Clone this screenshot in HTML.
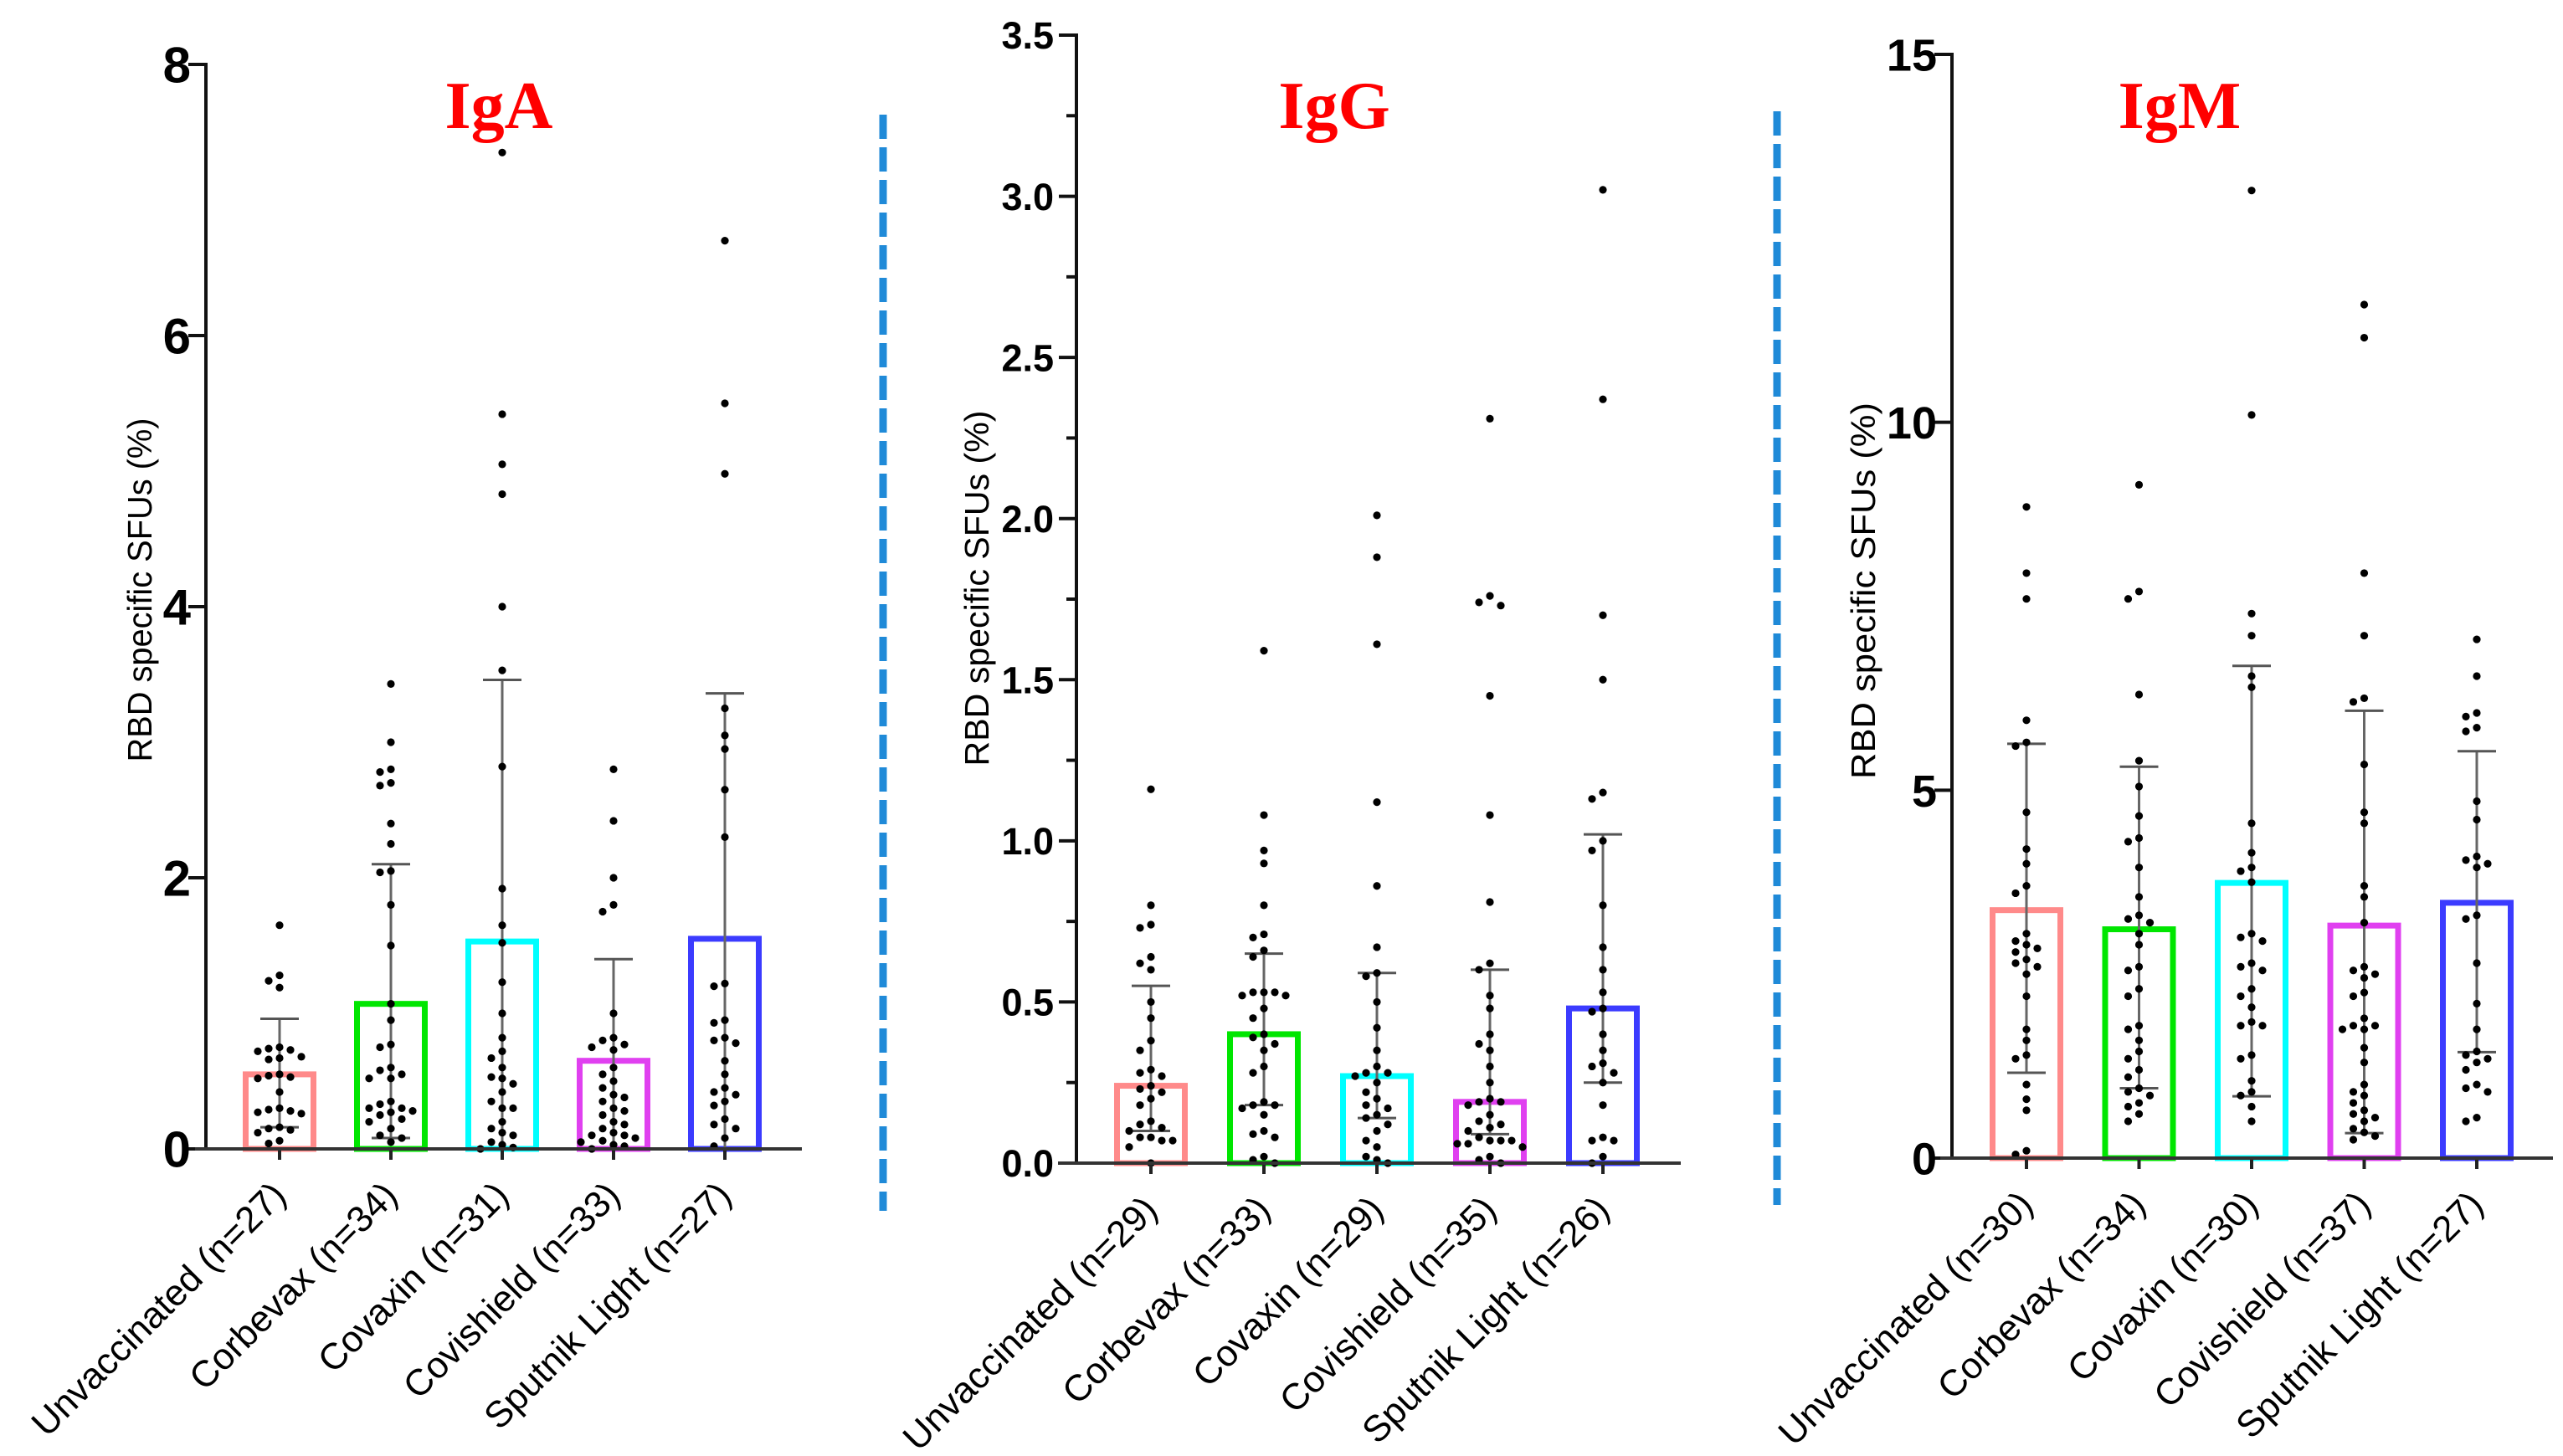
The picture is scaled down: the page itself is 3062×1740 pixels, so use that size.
<!DOCTYPE html>
<html><head><meta charset="utf-8"><style>
html,body{margin:0;padding:0;background:#fff;}
svg{display:block;}
</style></head><body>
<svg id="fig" width="3062" height="1740" viewBox="0 0 3062 1740" xmlns="http://www.w3.org/2000/svg">
<rect width="3062" height="1740" fill="#fff"/>
<line x1="1055" y1="137" x2="1055" y2="1447" stroke="#1f8ad8" stroke-width="9" stroke-dasharray="29,10"/>
<line x1="2123" y1="133" x2="2123" y2="1440" stroke="#1f8ad8" stroke-width="9" stroke-dasharray="29,10"/>
</svg>
<script>
const categories = ["Unvaccinated", "Corbevax", "Covaxin", "Covishield", "Sputnik Light"];
const colors = ["#ff8a8a", "#00e600", "#00ffff", "#e040f0", "#3b3bff"];

const igaN = [27, 34, 31, 33, 27];
const igaMeans = [0.55, 1.07, 1.53, 0.65, 1.55];
const igaUpper = [0.96, 2.10, 3.46, 1.40, 3.36];
const igaLower = [0.16, 0.08, 0, 0, 0];
const igaTicks = ["0", "2", "4", "6", "8"];
const igaPoints = [
 [1.65,1.28,1.24,1.19,0.75,0.74,0.73,0.72,0.68,0.67,0.66,0.55,0.54,0.53,0.52,0.42,0.30,0.29,0.28,0.27,0.26,0.16,0.15,0.14,0.12,0.06,0.04],
 [3.43,3.0,2.8,2.78,2.7,2.68,2.4,2.25,2.05,2.04,1.8,1.5,1.07,0.95,0.77,0.75,0.6,0.58,0.55,0.52,0.52,0.35,0.33,0.3,0.3,0.28,0.27,0.25,0.22,0.2,0.15,0.1,0.08,0.05],
 [7.35,5.42,5.05,4.83,4.0,3.53,2.82,1.92,1.65,1.52,1.23,1.0,0.82,0.72,0.67,0.6,0.53,0.52,0.48,0.42,0.35,0.3,0.3,0.2,0.15,0.12,0.1,0.05,0.03,0.01,0.0],
 [2.8,2.42,2.0,1.8,1.75,1.0,0.82,0.8,0.77,0.75,0.73,0.6,0.55,0.5,0.45,0.4,0.38,0.35,0.3,0.28,0.25,0.2,0.18,0.15,0.12,0.1,0.1,0.08,0.06,0.05,0.03,0.02,0.0],
 [6.7,5.5,4.98,3.25,3.05,2.95,2.65,2.3,1.22,1.2,0.95,0.93,0.82,0.8,0.78,0.65,0.55,0.45,0.42,0.4,0.35,0.32,0.22,0.18,0.15,0.08,0.02]
];

const iggN = [29, 33, 29, 35, 26];
const iggMeans = [0.24, 0.40, 0.27, 0.19, 0.48];
const iggUpper = [0.55, 0.65, 0.59, 0.60, 1.02];
const iggLower = [0.10, 0.18, 0.14, 0.09, 0.25];
const iggTicks = ["0.0", "0.5", "1.0", "1.5", "2.0", "2.5", "3.0", "3.5"];
const iggPoints = [
 [1.16,0.80,0.74,0.73,0.64,0.62,0.60,0.50,0.45,0.38,0.35,0.29,0.28,0.27,0.24,0.23,0.22,0.20,0.18,0.13,0.12,0.11,0.10,0.08,0.08,0.07,0.07,0.05,0.0],
 [1.59,1.08,0.97,0.93,0.80,0.71,0.70,0.66,0.64,0.53,0.53,0.53,0.52,0.52,0.48,0.45,0.40,0.39,0.37,0.35,0.30,0.28,0.19,0.18,0.18,0.17,0.15,0.10,0.09,0.08,0.02,0.01,0.0],
 [2.01,1.88,1.61,1.12,0.86,0.67,0.59,0.58,0.50,0.42,0.35,0.30,0.28,0.28,0.27,0.25,0.22,0.20,0.18,0.17,0.15,0.14,0.12,0.10,0.07,0.05,0.02,0.01,0.0],
 [2.31,1.76,1.74,1.73,1.45,1.08,0.81,0.62,0.60,0.52,0.48,0.40,0.37,0.35,0.30,0.25,0.20,0.19,0.19,0.18,0.15,0.13,0.12,0.11,0.10,0.08,0.07,0.07,0.07,0.06,0.06,0.05,0.02,0.01,0.0],
 [3.02,2.37,1.70,1.50,1.15,1.13,1.00,0.97,0.80,0.67,0.60,0.53,0.48,0.47,0.40,0.35,0.31,0.30,0.28,0.25,0.18,0.08,0.07,0.07,0.02,0.0]
];

const igmN = [30, 34, 30, 37, 27];
const igmMeans = [3.37, 3.11, 3.74, 3.16, 3.47];
const igmUpper = [5.63, 5.32, 6.69, 6.08, 5.53];
const igmLower = [1.16, 0.95, 0.84, 0.34, 1.44];
const igmTicks = ["0", "5", "10", "15"];
const igmPoints = [
 [8.85,7.95,7.6,5.95,5.65,5.6,4.7,4.2,4.0,3.7,3.6,3.05,2.95,2.9,2.85,2.8,2.7,2.65,2.6,2.5,2.2,1.75,1.6,1.4,1.35,1.0,0.8,0.65,0.1,0.05],
 [9.15,7.7,7.6,6.3,5.4,5.05,4.65,4.35,4.3,3.95,3.55,3.3,3.25,3.2,3.05,2.9,2.6,2.55,2.3,2.2,1.8,1.75,1.6,1.45,1.35,1.2,1.1,0.95,0.9,0.85,0.75,0.7,0.6,0.5],
 [13.15,10.1,7.4,7.1,6.55,6.4,4.55,4.15,3.95,3.9,3.75,3.05,3.0,2.95,2.65,2.6,2.55,2.3,2.2,2.05,1.85,1.8,1.8,1.4,1.35,1.05,0.9,0.85,0.7,0.5],
 [11.6,11.15,7.95,7.1,6.25,6.2,5.35,4.7,4.55,3.7,3.55,3.2,2.6,2.55,2.5,2.45,2.25,2.2,1.9,1.8,1.8,1.75,1.75,1.5,1.3,1.0,0.9,0.85,0.75,0.65,0.6,0.55,0.5,0.4,0.35,0.3,0.25],
 [7.05,6.55,6.05,6.0,5.85,5.8,4.85,4.6,4.1,4.05,4.0,3.95,3.3,3.25,2.65,2.1,1.75,1.45,1.4,1.35,1.3,1.2,1.0,0.95,0.9,0.55,0.5]
];

const NS = "http://www.w3.org/2000/svg";
const svg = document.getElementById("fig");
function mk(tag, attrs, parent) {
  const e = document.createElementNS(NS, tag);
  for (const k in attrs) e.setAttribute(k, attrs[k]);
  (parent || svg).appendChild(e);
  return e;
}

function drawPanel(cfg) {
  const g = mk("g", {});
  
  
  const yScale = v => cfg.y0 - v / cfg.max * (cfg.y0 - cfg.yTop);
  const xScale = i => cfg.x0c + i * cfg.step;

  const t = mk("text", {x: cfg.titleX, y: 153, "text-anchor": "middle", fill: "#ff0000",
    "font-family": "Liberation Serif, serif", "font-weight": "bold", "font-size": 80}, g);
  t.textContent = cfg.title;
  
  

  const ya = mk("line", {x1: cfg.axisX, y1: yScale(cfg.max) - 2, x2: cfg.axisX, y2: cfg.y0, stroke: "#111", "stroke-width": 4}, g);
  
  
  cfg.ticks.forEach((lab, i) => {
    const v = i * cfg.max / (cfg.ticks.length - 1);
    const y = yScale(v);
    const tk = mk("line", {x1: cfg.axisX - 21, y1: y, x2: cfg.axisX, y2: y, stroke: "#111", "stroke-width": 4}, g);
    
    
    const tl = mk("text", {x: cfg.labelRight, y: y + cfg.tickFont * 0.36, "text-anchor": "end", fill: "#000",
      "font-family": "Liberation Sans, sans-serif", "font-weight": "bold", "font-size": cfg.tickFont}, g);
    tl.textContent = lab;
    
    
    if (cfg.minor && i < cfg.ticks.length - 1) {
      const ym = yScale(v + cfg.max / (cfg.ticks.length - 1) / 2);
      const mt = mk("line", {x1: cfg.axisX - 12, y1: ym, x2: cfg.axisX, y2: ym, stroke: "#111", "stroke-width": 4}, g);
      
      
    }
  });
  const yt = mk("text", {x: 0, y: 0, "text-anchor": "middle", fill: "#000", "font-family": "Liberation Sans, sans-serif",
    "font-size": 41, textLength: cfg.ytLen, lengthAdjust: "spacingAndGlyphs",
    transform: `translate(${cfg.ytX},${cfg.ytY}) rotate(-90)`}, g);
  yt.textContent = "RBD specific SFUs (%)";
  
  

  cfg.means.forEach((m, i) => {
    const cx = xScale(i);
    const bw = 81;
    const by = yScale(m);
    const bar = mk("rect", {x: cx - bw / 2, y: by, width: bw, height: cfg.y0 - by, fill: "#fff", stroke: colors[i], "stroke-width": 7}, g);
    
    
    const up = yScale(cfg.upper[i]);
    const lo = cfg.lower[i] > 0 ? yScale(cfg.lower[i]) : cfg.y0;
    const el = mk("line", {x1: cx, y1: up, x2: cx, y2: lo, stroke: "#666", "stroke-width": 3}, g);
    
    
    const cu = mk("line", {x1: cx - 23, y1: up, x2: cx + 23, y2: up, stroke: "#555", "stroke-width": 3}, g);
    
    
    if (cfg.lower[i] > 0) {
      const cl = mk("line", {x1: cx - 23, y1: lo, x2: cx + 23, y2: lo, stroke: "#555", "stroke-width": 3}, g);
      
      
    }
    const placed = [];
    cfg.points[i].forEach(v => {
      const py = yScale(v);
      let off = 0;
      for (let k = 0; k < 40; k++) {
        const cand = k === 0 ? 0 : (k % 2 ? -1 : 1) * Math.ceil(k / 2) * 13;
        const ok = placed.every(p => (p[0] - cand) ** 2 + (p[1] - py) ** 2 >= 144);
        if (ok) { off = cand; break; }
      }
      placed.push([off, py]);
      const c = mk("circle", {cx: cx + off, cy: py, r: 4.6, fill: "#000"}, g);
      
      
    });
    const xt = mk("line", {x1: cx, y1: cfg.y0, x2: cx, y2: cfg.y0 + 13, stroke: "#222", "stroke-width": 4}, g);
    
    
    const xl = mk("text", {x: 0, y: 0, "text-anchor": "end", fill: "#000", "font-family": "Liberation Sans, sans-serif",
      "font-size": 44, transform: `translate(${cx + 10},${cfg.y0 + 58}) rotate(-45)`}, g);
    xl.textContent = categories[i] + " (n=" + cfg.n[i] + ")";
    
    
  });
  const xa = mk("line", {x1: cfg.xStart, y1: cfg.y0, x2: cfg.xEnd, y2: cfg.y0, stroke: "#333", "stroke-width": 4}, g);
  
  
}

drawPanel({key: "iga", title: "IgA", titleX: 596, axisX: 246, y0: 1373, yTop: 77, max: 8, ticks: igaTicks, minor: false,
  tickFont: 60, labelRight: 228, x0c: 334, step: 133, xStart: 233, xEnd: 958, ytX: 181, ytY: 705, ytLen: 411,
  means: igaMeans, upper: igaUpper, lower: igaLower, points: igaPoints, n: igaN});
drawPanel({key: "igg", title: "IgG", titleX: 1594, axisX: 1286, y0: 1390, yTop: 42, max: 3.5, ticks: iggTicks, minor: true,
  tickFont: 45, labelRight: 1259, x0c: 1375, step: 135, xStart: 1264, xEnd: 2008, ytX: 1181, ytY: 703, ytLen: 425,
  means: iggMeans, upper: iggUpper, lower: iggLower, points: iggPoints, n: iggN});
drawPanel({key: "igm", title: "IgM", titleX: 2604, axisX: 2332, y0: 1384, yTop: 65, max: 15, ticks: igmTicks, minor: false,
  tickFont: 54, labelRight: 2314, x0c: 2421, step: 134.5, xStart: 2318, xEnd: 3050, ytX: 2240, ytY: 706, ytLen: 450,
  means: igmMeans, upper: igmUpper, lower: igmLower, points: igmPoints, n: igmN});
</script>
</body></html>
